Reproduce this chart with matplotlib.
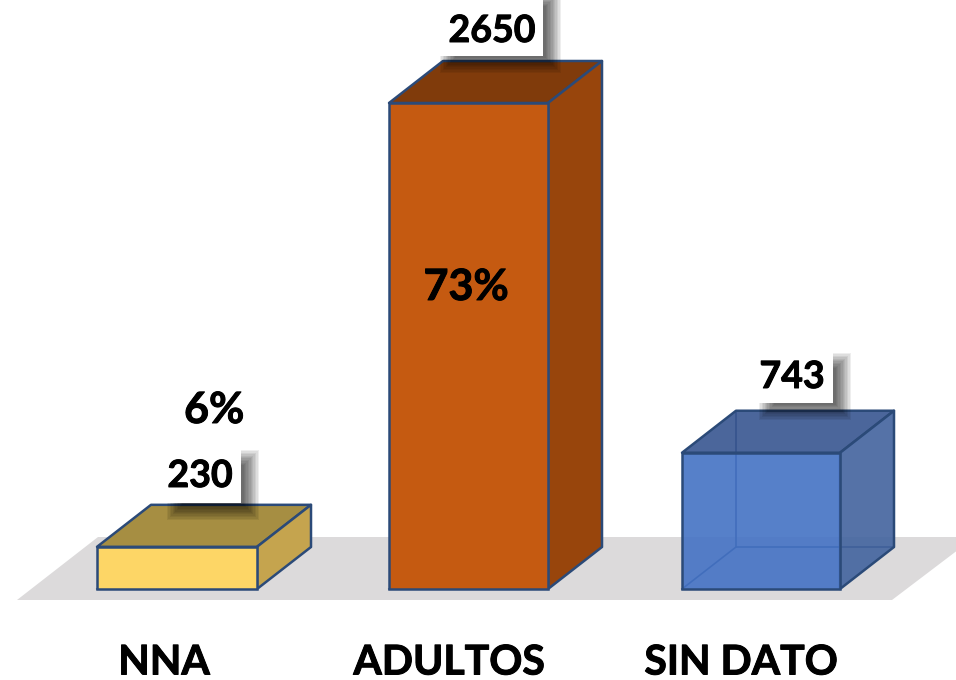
import matplotlib
matplotlib.use('Agg')
import matplotlib.pyplot as plt
import matplotlib.patheffects as pe
from matplotlib.patches import Polygon, Rectangle
from matplotlib.colors import to_rgba

plt.rcParams['font.family'] = ['Lato', 'DejaVu Sans']

categories = ['NNA', 'ADULTOS', 'SIN DATO']
counts = [230, 2650, 743]
percents = ['6%', '73%', None]

# styling, one entry per bar
FRONT = ['#FDD666', '#C55A11', '#4472C4']
TOP = ['#A68E42', '#803B0B', '#375590']
SIDE = ['#C5A44E', '#98450C', '#42639E']
ALPHA = [1.0, 1.0, 0.9]
EDGE = '#2B4A78'
FLOOR = '#DCDADB'

W, H = 956, 680
BASE_PX = 589       # pixel row of value 0
PX_PER_UNIT = 0.1834
DX, DY = 54, 42     # depth of the fake 3D
BAR_LEFT = [97, 389, 682]
BAR_W = [160, 159, 158]

# label layout in pixels: centre of text, then box (left, right, top, bottom)
COUNT_POS = [(200, 476), (492, 31), (792, 377)]
COUNT_BOX = [(165, 241, 449, 503), (438, 543, -10, 56), (757, 833, 352, 403)]
PCT_POS = [(214, 410), (466, 287), None]
CAT_X = [164, 449, 741]
CAT_Y = 663

# slight stroke, the reference text is heavier than Lato Bold
THICK = [pe.withStroke(linewidth=0.7, foreground='black')]


def val(py):
    # pixel row -> value on the y axis
    return (BASE_PX - py) / PX_PER_UNIT


fig = plt.figure(figsize=(W / 100, H / 100), dpi=100)
ax = fig.add_axes([0, 0, 1, 1])
ax.set_xlim(0, W)
ax.set_ylim(val(H), val(0))
ax.axis('off')

# floor
ax.add_patch(Polygon([(17, val(600)), (892, val(600)), (975, val(537)), (98, val(537))],
                     closed=True, fc=FLOOR, ec='none', zorder=1))

dy = DY / PX_PER_UNIT
for i, c in enumerate(counts):
    x0, w = BAR_LEFT[i], BAR_W[i]
    x1 = x0 + w
    # hidden back edges, only seen through the translucent bar
    ax.plot([x0 + DX, x0 + DX, x1 + DX], [c + dy, dy, dy], color=EDGE, lw=1.2, zorder=2)
    ax.plot([x0, x0 + DX], [0, dy], color=EDGE, lw=1.2, zorder=2)
    ax.add_patch(Polygon([(x0, c), (x1, c), (x1 + DX, c + dy), (x0 + DX, c + dy)], closed=True,
                         fc=to_rgba(TOP[i], ALPHA[i]), ec=EDGE, lw=1.8, joinstyle='round', zorder=3))
    ax.add_patch(Polygon([(x1, 0), (x1 + DX, dy), (x1 + DX, c + dy), (x1, c)], closed=True,
                         fc=to_rgba(SIDE[i], ALPHA[i]), ec=EDGE, lw=1.8, joinstyle='round', zorder=3))
    ax.bar(x0, c, width=w, align='edge', color=to_rgba(FRONT[i], ALPHA[i]),
           edgecolor=EDGE, linewidth=1.8, zorder=4)

# soft shadow and white box behind each count
for (l, r, t, b) in COUNT_BOX:
    for k in range(12):
        grow = 8 - k * 1.4
        ax.add_patch(Rectangle((l + 10 - grow, val(b + 9 + grow)), r - l + 2 * grow,
                               val(t + 9 - grow) - val(b + 9 + grow),
                               fc='black', ec='none', alpha=0.065, zorder=5))
    ax.add_patch(Rectangle((l, val(b)), r - l, val(t) - val(b), fc='white', ec='none', zorder=6))

for c, (x, y) in zip(counts, COUNT_POS):
    ax.text(x, val(y), str(c), ha='center', va='center', fontsize=27, fontweight='bold',
            color='black', zorder=7, path_effects=THICK)
for p, pos in zip(percents, PCT_POS):
    if p is None:
        continue
    ax.text(pos[0], val(pos[1]), p, ha='center', va='center', fontweight='bold', color='black',
            fontsize=31, zorder=7, path_effects=THICK)
for name, x in zip(categories, CAT_X):
    ax.text(x, val(CAT_Y), name, ha='center', va='center', fontsize=29.5, fontweight='bold',
            color='black', zorder=7, path_effects=THICK)

fig.savefig('out.png', dpi=100)
